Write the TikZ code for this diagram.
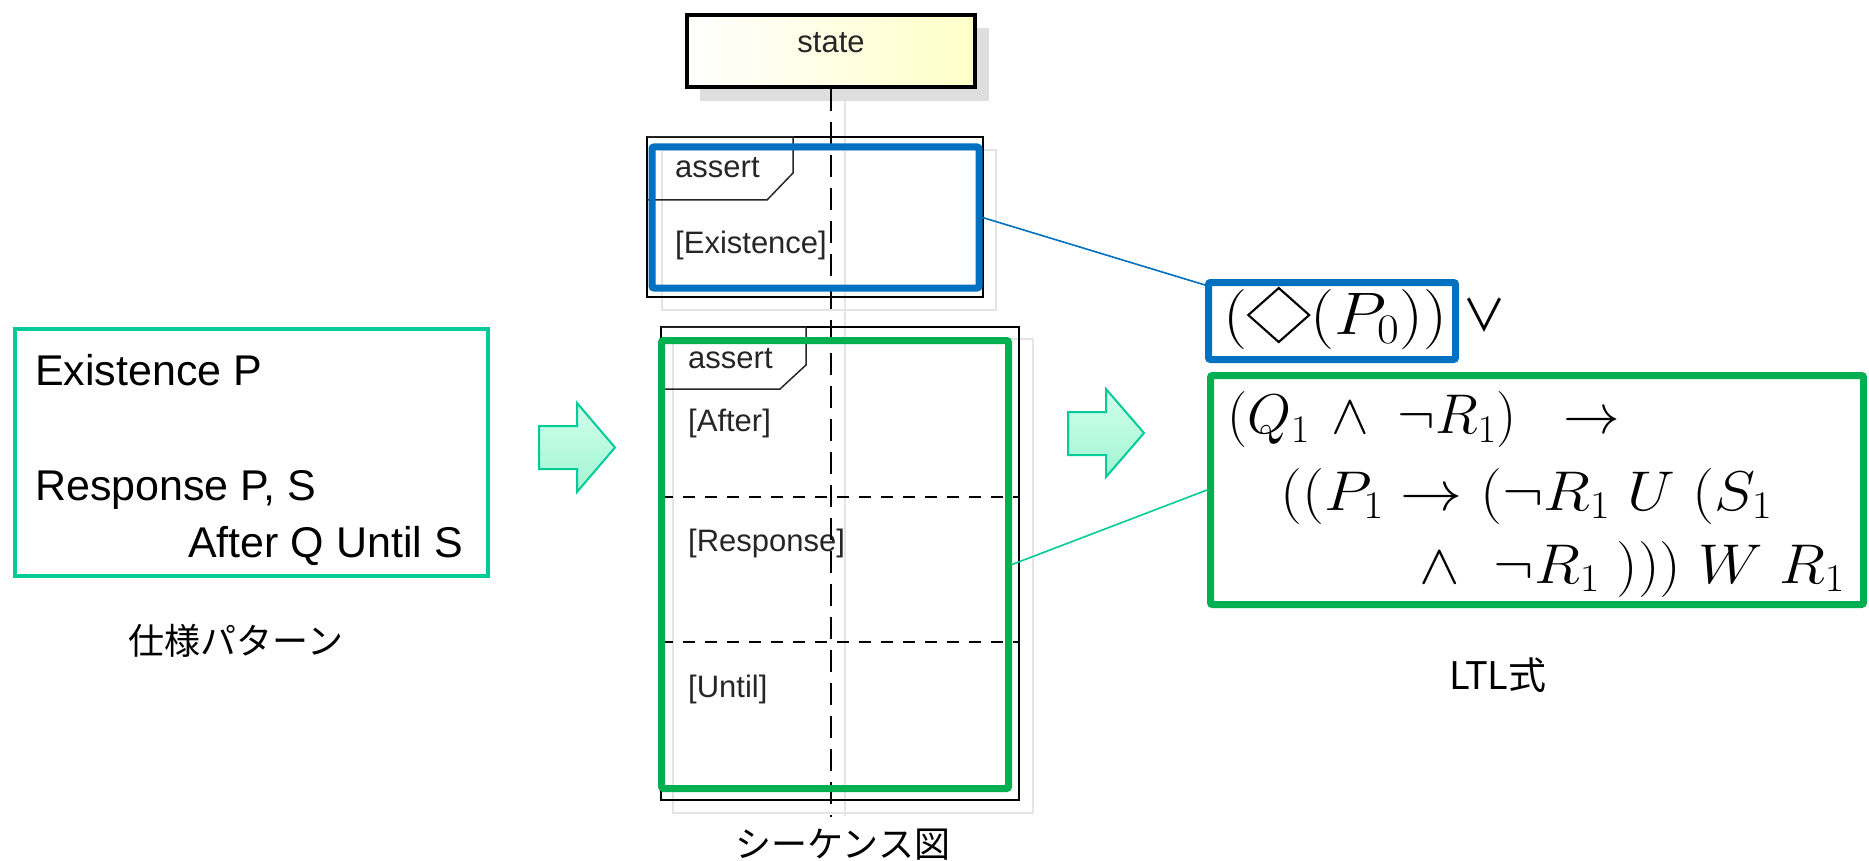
\RequirePackage{fix-cm}
\documentclass[tikz,border=0pt]{standalone}
\usepackage{amssymb}
\usepackage{graphicx}
\usepackage{fontspec}
\setmainfont{Liberation Sans}
\newfontfamily\jp{Noto Sans CJK JP}
\usetikzlibrary{calc}
\definecolor{teal1}{RGB}{0,204,153}
\definecolor{grn}{RGB}{0,176,80}
\definecolor{blu}{RGB}{0,112,192}
\definecolor{mintA}{RGB}{210,255,235}
\definecolor{mintB}{RGB}{160,245,210}
\definecolor{ylw}{RGB}{255,255,200}
\definecolor{shd}{RGB}{222,222,222}
\definecolor{shl}{RGB}{228,228,228}
\newcommand{\mydiamond}{\mathord{\raisebox{4pt}{$\vcenter{\hbox{\tikz\draw[line width=2pt] (0pt,0pt)--(27pt,27pt)--(54pt,0pt)--(27pt,-27pt)--cycle;}}$}}}
\tikzset{
  seqtxt/.style={font=\fontsize{31}{36}\selectfont, text=black!85, inner sep=0, anchor=base west},
  lefttxt/.style={font=\fontsize{43}{50}\selectfont, inner sep=0},
  jptxt/.style={font=\jp\fontsize{36}{40}\selectfont, inner sep=0},
  mathtxt/.style={font=\fontsize{56}{64}\selectfont, inner sep=0},
  frameblk/.style={draw=black, line width=2.5},
  frameshadow/.style={draw=shl, line width=1.5},
  tabline/.style={draw=black!85, line width=1.5},
  sepline/.style={draw=black, line width=2, dash pattern=on 12 off 10},
  lifeline/.style={draw=black, line width=2.5, dash pattern=on 22 off 11},
  hlbox/.style={rectangle, line width=7, rounded corners=2, inner sep=0},
  bigarrow/.style={draw=teal1, line width=2, top color=mintA, bottom color=mintB},
  conn/.style={line width=1.6},
}
\begin{document}
\begin{tikzpicture}[x=1pt,y=-1pt]
\useasboundingbox (0,0) rectangle (1869,861);
\fill[white] (0,0) rectangle (1869,861);

% ---------- left: specification pattern ----------
\node[draw=teal1, line width=4, rectangle, minimum width=473, minimum height=247, inner sep=0] (spec) at (251.5,452.5) {};
\node[lefttxt, anchor=base west] (t1) at (35,385) {Existence P};
\node[lefttxt, anchor=base west] (t2) at (35,500) {Response P, S};
\node[lefttxt, anchor=base east] (t3) at (463,557) {After Q Until S};
\node[jptxt] (specl) at (236,641) {仕様パターン};

% arrow 1
\path[bigarrow] (539,426) -- (577,426) -- (577,403) -- (615,447.5) -- (577,492) -- (577,469) -- (539,469) -- cycle;

% ---------- sequence diagram ----------
\fill[shd] (700,28) rectangle (989,101);
\draw[shl, line width=1.5] (845,101) -- (845,816);
\draw[frameshadow] (662,150) rectangle (996,310);
\draw[frameshadow] (673,339) rectangle (1033,813);

\node[draw=black, line width=4, rectangle, minimum width=288, minimum height=72, inner sep=0,
      left color=white, right color=ylw] (state) at (831,51) {};
\node[font=\fontsize{31}{36}\selectfont, text=black!85, inner sep=0, anchor=base] (statet) at (831,53) {state};

% frame 1
\draw[frameblk] (647,137) rectangle (983,297);
\draw[tabline] (647,137) -- (793,137) -- (793,173) -- (767,200) -- (647,200);
\node[seqtxt] (a1) at (675,178) {assert};
\node[seqtxt] (ex) at (675,254) {[Existence]};

% frame 2
\draw[frameblk] (661,327) rectangle (1019,800);
\draw[tabline] (661,327) -- (806,327) -- (806,365) -- (780,389) -- (661,389);
\node[seqtxt] (a2) at (688,368) {assert};
\node[seqtxt] (af) at (688,431) {[After]};
\node[seqtxt] (rs) at (688,551) {[Response]};
\node[seqtxt] (un) at (688,697) {[Until]};
\draw[sepline] (661,497) -- (1019,497);
\draw[sepline] (661,642) -- (1019,642);

% lifeline
\coordinate (lifeend) at (831,817);
\draw[lifeline] (state.south) -- (lifeend);

% highlight boxes
\node[hlbox, draw=blu, minimum width=327, minimum height=141] (blueL) at (815.5,217.5) {};
\node[hlbox, draw=grn, minimum width=347, minimum height=448] (greenL) at (835,564.5) {};

\node[jptxt] (seql) at (843,845) {シーケンス図};

% arrow 2
\path[bigarrow] (1068,412) -- (1106,412) -- (1106,389) -- (1144,433) -- (1106,477) -- (1106,455) -- (1068,455) -- cycle;

% ---------- right: LTL ----------
\node[hlbox, draw=blu, minimum width=247, minimum height=77] (blueR) at (1332,321) {};
\node[hlbox, draw=grn, minimum width=653, minimum height=229] (greenR) at (1537,490) {};

\node[font=\fontsize{60}{68}\selectfont, inner sep=0, anchor=west] (f0) at (1223,318) {\resizebox{224pt}{\height}{$(\mydiamond(P_0))$}};
\node[font=\jp\fontsize{44}{48}\selectfont, inner sep=0] (orop) at (1484,315) {∨};
\node[mathtxt, anchor=west] (f1) at (1227,420) {\resizebox{393pt}{\height}{$(Q_1\,\wedge\;\neg R_1)\;\;\rightarrow$}};
\node[mathtxt, anchor=west] (f2) at (1280,496) {\resizebox{492pt}{\height}{$((P_1 \rightarrow (\neg R_1\;U\;(S_1$}};
\node[mathtxt, anchor=east] (f3) at (1845,569) {\resizebox{425pt}{\height}{$\wedge\;\;\neg R_1\;)))\;W\;R_1$}};

\node[font=\jp\fontsize{38}{42}\selectfont, inner sep=0] (ltl) at (1498,675) {LTL式};

% connectors
\coordinate (bRin) at ($(blueR.north west)+(0,6)$);
\draw[conn, blu] (blueL.east) -- (bRin);
\draw[conn, teal1] (greenL.east) -- (greenR.west);
\end{tikzpicture}
\end{document}
